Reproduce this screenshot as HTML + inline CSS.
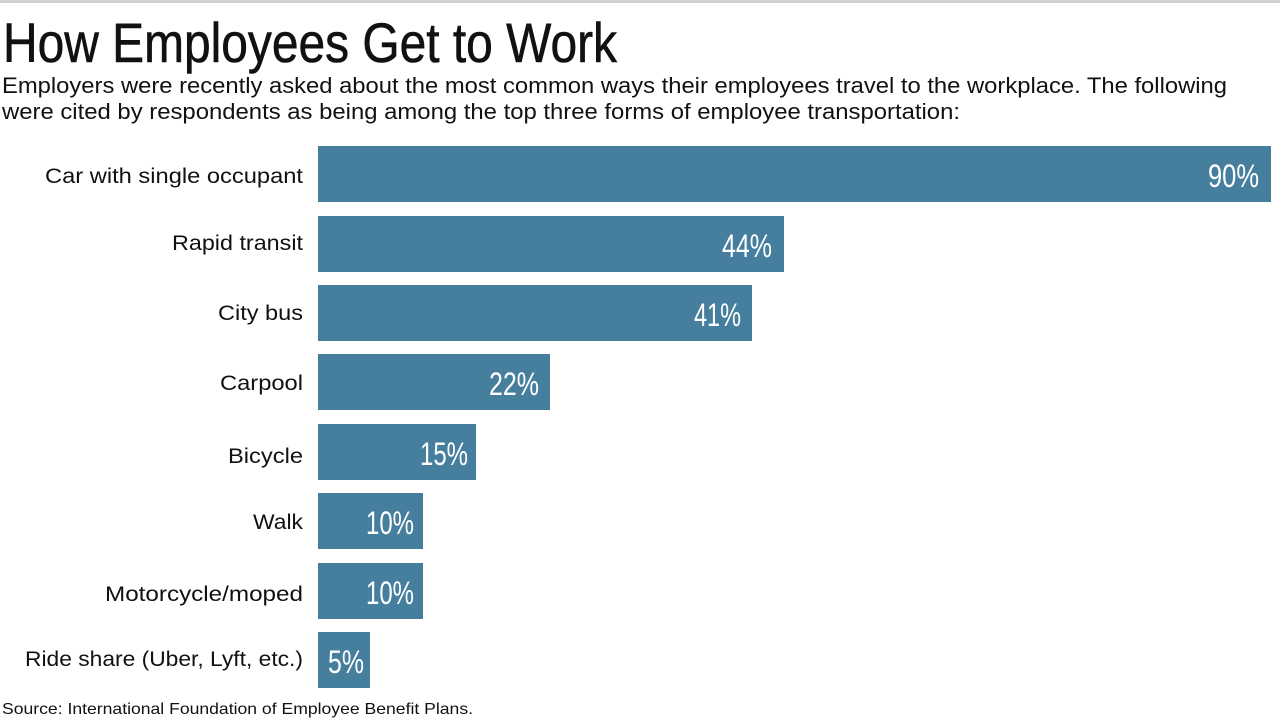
<!DOCTYPE html>
<html><head><meta charset="utf-8"><style>
html,body{margin:0;padding:0;background:#fff;}
svg{display:block;}
text{font-family:"Liberation Sans",sans-serif;}
</style></head><body>
<svg width="1280" height="720" viewBox="0 0 1280 720" xmlns="http://www.w3.org/2000/svg">
<rect x="0" y="0" width="1280" height="3" fill="#d0d0d0"/>
<text x="3" y="62" font-size="56" fill="#111" stroke="#111" stroke-width="0.6" textLength="614" lengthAdjust="spacingAndGlyphs">How Employees Get to Work</text>
<text x="2" y="93" font-size="22" fill="#111" textLength="1225" lengthAdjust="spacingAndGlyphs">Employers were recently asked about the most common ways their employees travel to the workplace. The following</text>
<text x="2" y="119" font-size="22" fill="#111" textLength="958" lengthAdjust="spacingAndGlyphs">were cited by respondents as being among the top three forms of employee transportation:</text>
<g fill="#467f9e">
<rect x="318" y="146" width="953" height="56"/>
<rect x="318" y="216" width="466" height="56"/>
<rect x="318" y="285" width="434" height="56"/>
<rect x="318" y="354" width="232" height="56"/>
<rect x="318" y="424" width="158" height="56"/>
<rect x="318" y="493" width="105" height="56"/>
<rect x="318" y="563" width="105" height="56"/>
<rect x="318" y="632" width="52" height="56"/>
</g>
<g font-size="21.5" fill="#111" lengthAdjust="spacingAndGlyphs">
<text x="45" y="183" textLength="258" lengthAdjust="spacingAndGlyphs">Car with single occupant</text>
<text x="172" y="250" textLength="131" lengthAdjust="spacingAndGlyphs">Rapid transit</text>
<text x="218" y="320" textLength="85" lengthAdjust="spacingAndGlyphs">City bus</text>
<text x="220" y="390" textLength="83" lengthAdjust="spacingAndGlyphs">Carpool</text>
<text x="228" y="463" textLength="75" lengthAdjust="spacingAndGlyphs">Bicycle</text>
<text x="253" y="529" textLength="50" lengthAdjust="spacingAndGlyphs">Walk</text>
<text x="105" y="601" textLength="198" lengthAdjust="spacingAndGlyphs">Motorcycle/moped</text>
<text x="25" y="666" textLength="278" lengthAdjust="spacingAndGlyphs">Ride share (Uber, Lyft, etc.)</text>
</g>
<g font-size="32" fill="#fff">
<text x="1208" y="187" textLength="51" lengthAdjust="spacingAndGlyphs">90%</text>
<text x="722" y="257" textLength="50" lengthAdjust="spacingAndGlyphs">44%</text>
<text x="694" y="326" textLength="47" lengthAdjust="spacingAndGlyphs">41%</text>
<text x="489" y="395" textLength="50" lengthAdjust="spacingAndGlyphs">22%</text>
<text x="420" y="465" textLength="48" lengthAdjust="spacingAndGlyphs">15%</text>
<text x="366" y="534" textLength="48" lengthAdjust="spacingAndGlyphs">10%</text>
<text x="366" y="604" textLength="48" lengthAdjust="spacingAndGlyphs">10%</text>
<text x="328" y="673" textLength="36" lengthAdjust="spacingAndGlyphs">5%</text>
</g>
<text x="2" y="714" font-size="16" fill="#111" textLength="471" lengthAdjust="spacingAndGlyphs">Source: International Foundation of Employee Benefit Plans.</text>
</svg>
</body></html>
